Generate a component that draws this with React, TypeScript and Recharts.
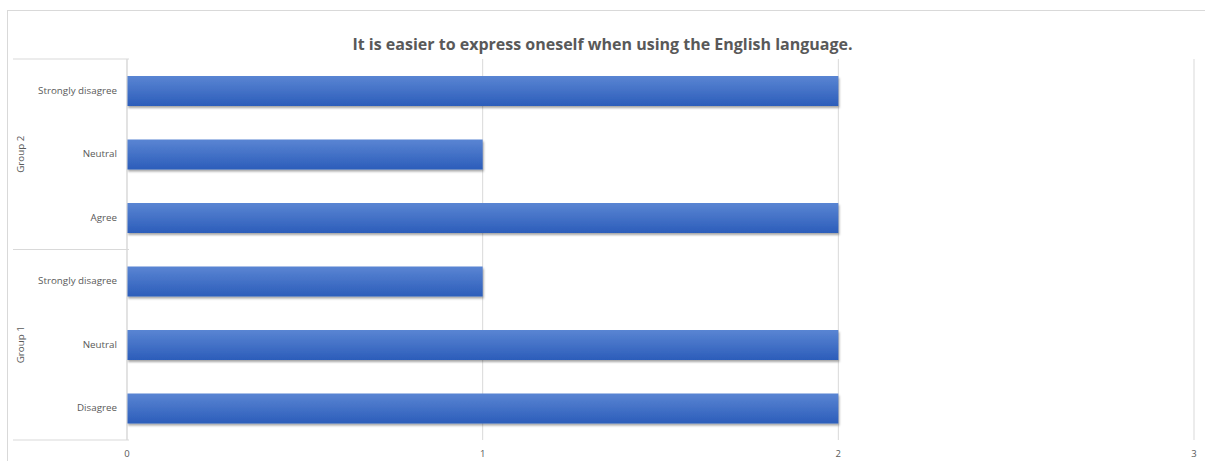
import { BarChart, Bar, XAxis, YAxis, CartesianGrid } from 'recharts'

const groups = ['Group 2', 'Group 2', 'Group 2', 'Group 1', 'Group 1', 'Group 1']
const answers = ['Strongly disagree', 'Neutral', 'Agree', 'Strongly disagree', 'Neutral', 'Disagree']
const counts = [2, 1, 2, 1, 2, 2]
const xTicks = [0, 1, 2, 3]

const data = answers.map((a, i) => ({ key: `${groups[i]}|${a}`, answer: a, group: groups[i], count: counts[i] }))

const W = 1205
const H = 461
const margin = { top: 59, right: 11, bottom: 0, left: 13 }
const xAxisH = 21
const band = (H - margin.top - margin.bottom - xAxisH) / data.length
const font = '"Open Sans", "Liberation Sans", sans-serif'

function CategoryTick(props: any) {
  const { x, y, index } = props
  const d = data[index]
  if (!d) return null
  const first = index === 0 || data[index - 1].group !== d.group
  const last = index === data.length - 1
  const middle = index > 0 && index < data.length - 1 && data[index - 1].group === d.group && data[index + 1].group === d.group
  const axisX = x + 10
  return (
    <g>
      <text x={x - 2} y={y} dy={3} textAnchor="end" fontSize={9.8} fill="#595959" fontFamily={font}>
        {d.answer}
      </text>
      {first && <line x1={margin.left} x2={axisX} y1={y - band / 2} y2={y - band / 2} stroke="#d9d9d9" />}
      {last && <line x1={margin.left} x2={axisX} y1={y + band / 2} y2={y + band / 2} stroke="#d9d9d9" />}
      {middle && (
        <text
          x={21}
          y={y}
          transform={`rotate(-90 21 ${y})`}
          dy={3}
          textAnchor="middle"
          fontSize={9.8}
          fill="#595959"
          fontFamily={font}
        >
          {d.group}
        </text>
      )}
    </g>
  )
}

function ValueTick(props: any) {
  const { x, payload } = props
  return (
    <text x={x} y={454} dy={3} textAnchor="middle" fontSize={9.5} fill="#595959" fontFamily={font}>
      {payload.value}
    </text>
  )
}

export default function App() {
  return (
    <div style={{ position: 'absolute', left: 0, top: 0, width: W, height: H, background: '#fff', overflow: 'hidden' }}>
      <div style={{ position: 'absolute', left: 7, top: 10, width: W, height: H, border: '1px solid #d9d9d9' }} />
      <div
        style={{
          position: 'absolute',
          top: 33,
          left: 0,
          width: W,
          textAlign: 'center',
          fontFamily: font,
          fontWeight: 700,
          fontSize: 16,
          color: '#595959',
        }}
      >
        It is easier to express oneself when using the English language.
      </div>
      <div style={{ position: 'absolute', left: 0, top: 0 }}>
        <BarChart width={W} height={H} data={data} layout="vertical" margin={margin}>
          <defs>
            <linearGradient id="barFill" x1="0" y1="0" x2="0" y2="1">
              <stop offset="0%" stopColor="#5a85d3" />
              <stop offset="100%" stopColor="#2c5dba" />
            </linearGradient>
            <filter id="barShadow" x="-5%" y="-20%" width="110%" height="160%">
              <feDropShadow dx="1" dy="2" stdDeviation="1.2" floodColor="#000" floodOpacity="0.35" />
            </filter>
          </defs>
          <CartesianGrid horizontal={false} stroke="#d9d9d9" />
          <XAxis
            type="number"
            domain={[0, 3]}
            ticks={xTicks}
            height={xAxisH}
            axisLine={false}
            tickLine={false}
            tick={<ValueTick />}
          />
          <YAxis
            type="category"
            dataKey="key"
            width={114}
            axisLine={{ stroke: '#d9d9d9' }}
            tickLine={false}
            tick={<CategoryTick />}
            interval={0}
          />
          <Bar dataKey="count" fill="url(#barFill)" barSize={30} filter="url(#barShadow)" isAnimationActive={false} />
        </BarChart>
      </div>
    </div>
  )
}
